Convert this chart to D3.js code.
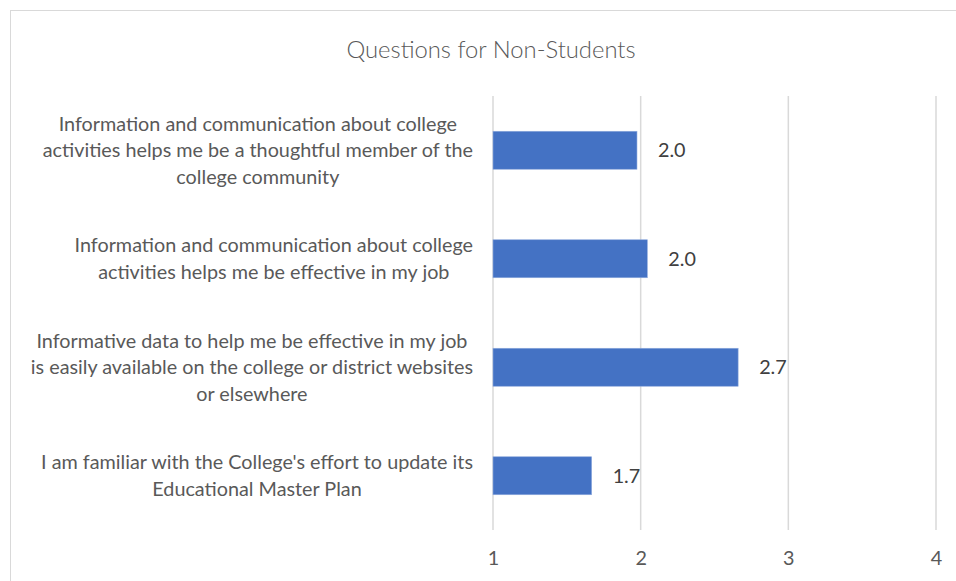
<!DOCTYPE html>
<html>
<head>
<meta charset="utf-8">
<script src="https://cdn.jsdelivr.net/npm/d3@7"></script>
<style>
  html, body { margin: 0; padding: 0; background: #ffffff; }
  svg { display: block; }
</style>
</head>
<body>
<svg id="chart" width="956" height="581"></svg>
<script>
// Survey questions (one entry per wrapped line) and their mean scores
const questions = [
  ["Information and communication about college",
   "activities helps me be a thoughtful member of the",
   "college community"],
  ["Information and communication about college",
   "activities helps me be effective in my job"],
  ["Informative data to help me be effective in my job",
   "is easily available on the college or district websites",
   "or elsewhere"],
  ["I am familiar with the College's effort to update its",
   "Educational Master Plan"]
];
const scores = [1.975, 2.045, 2.66, 1.668];
const xTicks = [1, 2, 3, 4];
const chartTitle = "Questions for Non-Students";

const svg = d3.select("#chart");
const W = 956, H = 581;
const font = "Lato, 'Open Sans', sans-serif";
const labelSize = 19.8;

// outer chart frame (runs off the right and bottom edges)
svg.append("rect")
  .attr("x", 10.5).attr("y", 10.5)
  .attr("width", W + 20).attr("height", H + 20)
  .attr("fill", "#ffffff")
  .attr("stroke", "#d9d9d9").attr("stroke-width", 1);

const plot = { left: 493, right: 936, top: 96, bottom: 530 };

const x = d3.scaleLinear().domain([1, 4]).range([plot.left, plot.right]);
const y = d3.scaleBand()
  .domain(d3.range(questions.length))
  .range([plot.top, plot.bottom])
  .paddingInner(0.65).paddingOuter(0.325);

// title
svg.append("text")
  .attr("x", 491).attr("y", 50)
  .attr("dy", "0.35em")
  .attr("text-anchor", "middle")
  .attr("font-family", font).attr("font-weight", 300)
  .attr("font-size", 23.8).attr("fill", "#595959")
  .text(chartTitle);

// vertical gridlines
svg.append("g").selectAll("line")
  .data(xTicks).join("line")
  .attr("x1", d => x(d)).attr("x2", d => x(d))
  .attr("y1", plot.top).attr("y2", plot.bottom)
  .attr("stroke", "#d9d9d9").attr("stroke-width", 1.5);

// x axis tick labels
const xAxis = d3.axisBottom(x).tickValues(xTicks).tickSize(0).tickPadding(0).tickFormat(d3.format("d"));
const gx = svg.append("g")
  .attr("transform", `translate(0,${plot.bottom + 28})`)
  .call(xAxis);
gx.select(".domain").remove();
gx.selectAll("text")
  .attr("dy", "0.35em")
  .attr("font-family", font).attr("font-size", labelSize).attr("fill", "#595959");

// bars
svg.append("g").selectAll("rect")
  .data(scores).join("rect")
  .attr("x", x(1))
  .attr("y", (d, i) => y(i))
  .attr("width", d => x(d) - x(1))
  .attr("height", y.bandwidth())
  .attr("fill", "#4472c4")
  .attr("stroke", "#8faadc").attr("stroke-width", 0.6);

// value labels
const fmt = d3.format(".1f");
svg.append("g").selectAll("text")
  .data(scores).join("text")
  .attr("x", d => x(d) + 21)
  .attr("y", (d, i) => y(i) + y.bandwidth() / 2)
  .attr("dy", "0.35em")
  .attr("font-family", font).attr("font-size", labelSize).attr("fill", "#404040")
  .text(d => fmt(d));

// category labels: each block centred, its widest line ending at the right margin
const labelRight = 473;
const lineGap = 26.5;
questions.forEach((lines, i) => {
  const g = svg.append("g");
  const cy = y(i) + y.bandwidth() / 2;
  const texts = g.selectAll("text").data(lines).join("text")
    .attr("y", (d, j) => cy + (j - (lines.length - 1) / 2) * lineGap)
    .attr("dy", "0.35em")
    .attr("text-anchor", "middle")
    .attr("font-family", font).attr("font-size", labelSize).attr("fill", "#595959")
    .text(d => d);
  let maxW = 0;
  texts.each(function () { maxW = Math.max(maxW, this.getComputedTextLength()); });
  texts.attr("x", labelRight - maxW / 2);
});
</script>
</body>
</html>
